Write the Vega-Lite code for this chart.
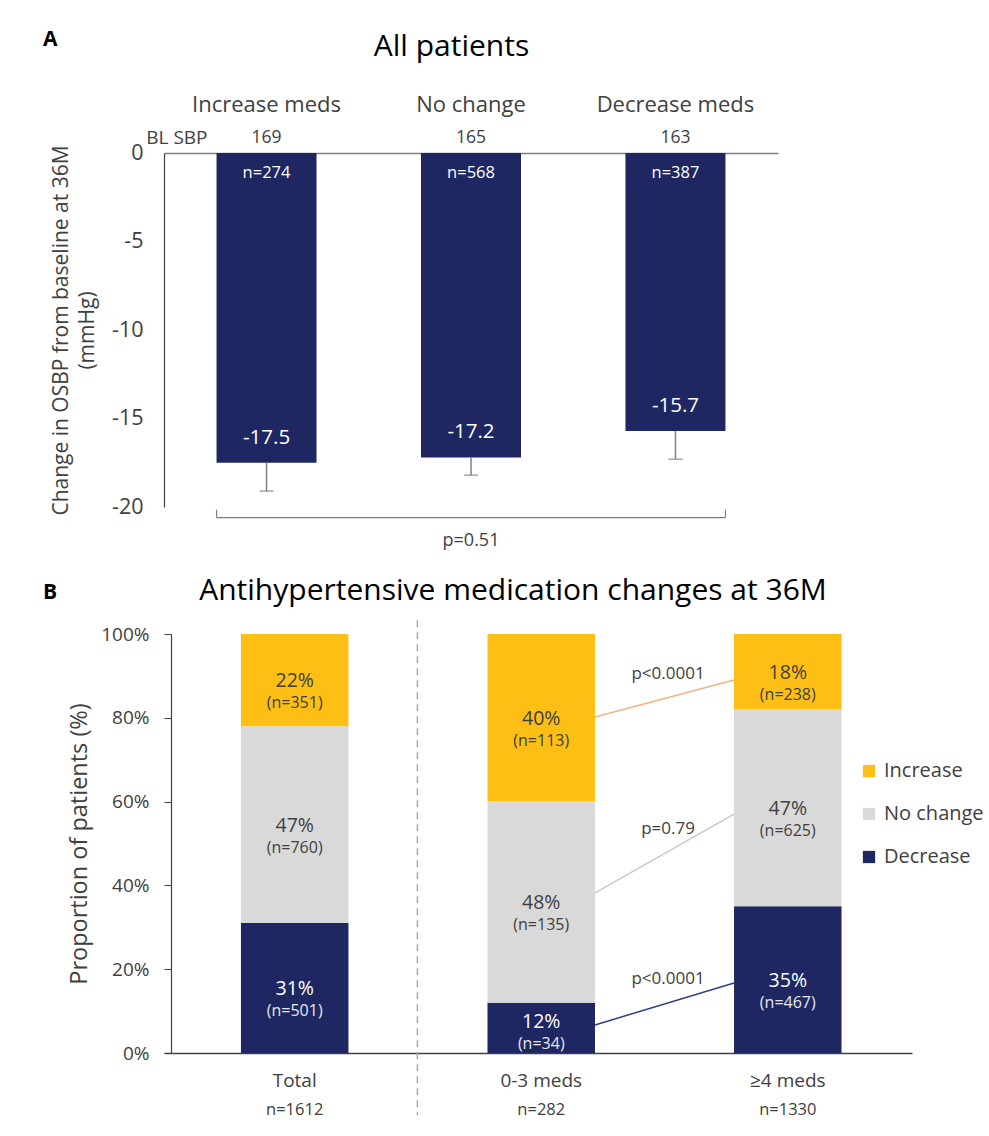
{
  "$schema": "https://vega.github.io/schema/vega-lite/v6.json",
  "background": "white",
  "padding": {"left": 42, "top": 29, "right": 5, "bottom": 5},
  "bounds": "flush",
  "spacing": 127,
  "config": {
    "font": "Open Sans",
    "view": {"stroke": null},
    "axis": {"grid": false, "labelFont": "Open Sans", "titleFont": "Open Sans", "labelColor": "#404040", "titleColor": "#404040", "titleFontWeight": "normal"},
    "title": {"font": "Open Sans"},
    "legend": {"labelFont": "Open Sans"},
    "text": {"font": "Open Sans"}
  },
  "vconcat": [
    {
      "width": 614,
      "height": 354,
      "title": {"text": "A", "anchor": "start", "frame": "group", "fontSize": 21, "fontWeight": "bold", "color": "#000000", "offset": -19, "dx": -121},
      "data": {"values": [
        {"group": "Increase meds", "change": -17.5, "lower": -19.1, "n": 274, "bl": 169},
        {"group": "No change", "change": -17.2, "lower": -18.2, "n": 568, "bl": 165},
        {"group": "Decrease meds", "change": -15.7, "lower": -17.3, "n": 387, "bl": 163}
      ]},
      "transform": [
        {"calculate": "'n=' + datum.n", "as": "nlabel"},
        {"calculate": "'' + datum.change", "as": "vlabel"}
      ],
      "layer": [
        {
          "mark": {"type": "bar", "color": "#1E2761"},
          "encoding": {
            "x": {"field": "group", "type": "nominal", "sort": null,
              "scale": {"domain": ["Increase meds", "No change", "Decrease meds"], "paddingInner": 0.511, "paddingOuter": 0.257},
              "axis": {"orient": "top", "title": "All patients", "titleFontSize": 30, "titleColor": "#000000", "titlePadding": 32, "titleX": 287,
                "labelFontSize": 22, "labelPadding": 37, "labelAngle": 0, "ticks": false, "domain": true, "domainColor": "#7F7F7F", "domainWidth": 1.5}},
            "y": {"field": "change", "type": "quantitative",
              "scale": {"domain": [-20, 0], "nice": false, "zero": false},
              "axis": {"values": [0, -5, -10, -15, -20], "labelExpr": "'' + datum.value", "ticks": false, "domainColor": "#404040", "domainWidth": 1.2,
                "labelFontSize": 21.5, "labelPadding": 21, "title": ["Change in OSBP from baseline at 36M", "(mmHg)"], "titleFontSize": 21, "titleLineHeight": 26, "titlePadding": 14}}
          }
        },
        {
          "mark": {"type": "rule", "color": "#7F7F7F", "strokeWidth": 1.5},
          "encoding": {
            "x": {"field": "group", "type": "nominal"},
            "y": {"field": "change", "type": "quantitative", "scale": {"domain": [-20, 0], "nice": false, "zero": false}},
            "y2": {"field": "lower"}
          }
        },
        {
          "mark": {"type": "tick", "color": "#7F7F7F", "thickness": 1.5, "size": 14, "orient": "horizontal"},
          "encoding": {
            "x": {"field": "group", "type": "nominal"},
            "y": {"field": "lower", "type": "quantitative", "scale": {"domain": [-20, 0], "nice": false, "zero": false}}
          }
        },
        {
          "mark": {"type": "text", "color": "white", "fontSize": 16.5, "dy": 20},
          "encoding": {
            "x": {"field": "group", "type": "nominal"},
            "y": {"datum": 0, "type": "quantitative", "scale": {"domain": [-20, 0], "nice": false, "zero": false}},
            "text": {"field": "nlabel"}
          }
        },
        {
          "mark": {"type": "text", "color": "white", "fontSize": 20.5, "dy": -25},
          "encoding": {
            "x": {"field": "group", "type": "nominal"},
            "y": {"field": "change", "type": "quantitative", "scale": {"domain": [-20, 0], "nice": false, "zero": false}},
            "text": {"field": "vlabel"}
          }
        },
        {
          "mark": {"type": "text", "color": "#404040", "fontSize": 17.5, "dy": -15},
          "encoding": {
            "x": {"field": "group", "type": "nominal"},
            "y": {"datum": 0, "type": "quantitative", "scale": {"domain": [-20, 0], "nice": false, "zero": false}},
            "text": {"field": "bl"}
          }
        },
        {
          "data": {"values": [{"label": "BL SBP"}]},
          "mark": {"type": "text", "color": "#404040", "fontSize": 19, "dy": -15, "align": "right", "dx": -9},
          "encoding": {
            "x": {"datum": "Increase meds", "type": "nominal", "bandPosition": 0},
            "y": {"datum": 0, "type": "quantitative", "scale": {"domain": [-20, 0], "nice": false, "zero": false}},
            "text": {"field": "label"}
          }
        },
        {
          "data": {"values": [{"label": "p=0.51"}]},
          "layer": [
            {
              "mark": {"type": "rule", "color": "#7F7F7F", "strokeWidth": 1.2},
              "encoding": {
                "x": {"datum": "Increase meds", "type": "nominal", "bandPosition": 0},
                "x2": {"datum": "Decrease meds", "bandPosition": 1},
                "y": {"datum": -20.6, "type": "quantitative", "scale": {"domain": [-20, 0], "nice": false, "zero": false}}
              }
            },
            {
              "mark": {"type": "rule", "color": "#7F7F7F", "strokeWidth": 1.2},
              "encoding": {
                "x": {"datum": "Increase meds", "type": "nominal", "bandPosition": 0},
                "y": {"datum": -20.15, "type": "quantitative", "scale": {"domain": [-20, 0], "nice": false, "zero": false}},
                "y2": {"datum": -20.6}
              }
            },
            {
              "mark": {"type": "rule", "color": "#7F7F7F", "strokeWidth": 1.2},
              "encoding": {
                "x": {"datum": "Decrease meds", "type": "nominal", "bandPosition": 1},
                "y": {"datum": -20.15, "type": "quantitative", "scale": {"domain": [-20, 0], "nice": false, "zero": false}},
                "y2": {"datum": -20.6}
              }
            },
            {
              "mark": {"type": "text", "color": "#404040", "fontSize": 18},
              "encoding": {
                "x": {"datum": "No change", "type": "nominal"},
                "y": {"datum": -21.9, "type": "quantitative", "scale": {"domain": [-20, 0], "nice": false, "zero": false}},
                "text": {"field": "label"}
              }
            }
          ]
        }
      ]
    },
    {
      "width": 748,
      "height": 419,
      "title": {"text": "Antihypertensive medication changes at 36M", "anchor": "middle", "frame": "group", "fontSize": 30, "fontWeight": "normal", "color": "#000000", "offset": -24, "dx": -25},
      "data": {"values": [
        {"group": "Total", "change": "Decrease", "pct": 31, "n": 501},
        {"group": "Total", "change": "No change", "pct": 47, "n": 760},
        {"group": "Total", "change": "Increase", "pct": 22, "n": 351},
        {"group": "0-3 meds", "change": "Decrease", "pct": 12, "n": 34},
        {"group": "0-3 meds", "change": "No change", "pct": 48, "n": 135},
        {"group": "0-3 meds", "change": "Increase", "pct": 40, "n": 113},
        {"group": "≥4 meds", "change": "Decrease", "pct": 35, "n": 467},
        {"group": "≥4 meds", "change": "No change", "pct": 47, "n": 625},
        {"group": "≥4 meds", "change": "Increase", "pct": 18, "n": 238}
      ]},
      "transform": [
        {"calculate": "indexof(['Decrease','No change','Increase'], datum.change)", "as": "ord"},
        {"stack": "pct", "groupby": ["group"], "sort": [{"field": "ord"}], "as": ["y0", "y1"]},
        {"calculate": "(datum.y0 + datum.y1) / 2 + (datum.pct < 15 ? 1.7 : 0)", "as": "ymid"},
        {"calculate": "datum.pct + '%'", "as": "pctlabel"},
        {"calculate": "'(n=' + datum.n + ')'", "as": "nlabel"}
      ],
      "layer": [
        {
          "mark": {"type": "bar"},
          "encoding": {
            "x": {"field": "group", "type": "nominal", "sort": null,
              "scale": {"domain": ["Total", "0-3 meds", "≥4 meds"], "paddingInner": 0.564, "paddingOuter": 0.299, "align": 0.522},
              "axis": {"orient": "bottom", "title": null, "labelAngle": 0, "labelFontSize": 19, "labelPadding": 18, "ticks": false, "domainColor": "#404040", "domainWidth": 1.5}},
            "y": {"field": "y1", "type": "quantitative",
              "scale": {"domain": [0, 100], "nice": false},
              "axis": {"orient": "left", "values": [0, 20, 40, 60, 80, 100], "labelExpr": "datum.value + '%'", "tickSize": 7, "tickColor": "#404040", "domainColor": "#404040", "domainWidth": 1.2,
                "offset": -7, "labelFontSize": 19, "labelPadding": 15, "title": "Proportion of patients (%)", "titleFontSize": 23.5, "titlePadding": 9}},
            "y2": {"field": "y0"},
            "color": {"field": "change", "type": "nominal",
              "scale": {"domain": ["Increase", "No change", "Decrease"], "range": ["#FDBF14", "#D9D9D9", "#1E2761"]},
              "legend": {"title": null, "orient": "none", "legendX": 695, "legendY": 608, "symbolType": "square", "symbolSize": 150, "symbolStrokeWidth": 0,
                "labelFontSize": 20, "labelColor": "#404040", "rowPadding": 23, "labelOffset": 5}}
          }
        },
        {
          "mark": {"type": "text", "fontSize": 19.5, "dy": 1},
          "encoding": {
            "x": {"field": "group", "type": "nominal"},
            "y": {"field": "ymid", "type": "quantitative", "scale": {"domain": [0, 100], "nice": false}},
            "text": {"field": "pctlabel"},
            "color": {"condition": {"test": "datum.change == 'Decrease'", "value": "#FFFFFF"}, "value": "#404040"}
          }
        },
        {
          "mark": {"type": "text", "fontSize": 16, "dy": 23},
          "encoding": {
            "x": {"field": "group", "type": "nominal"},
            "y": {"field": "ymid", "type": "quantitative", "scale": {"domain": [0, 100], "nice": false}},
            "text": {"field": "nlabel"},
            "color": {"condition": {"test": "datum.change == 'Decrease'", "value": "#E6E8F0"}, "value": "#404040"}
          }
        },
        {
          "data": {"values": [
            {"change": "Increase", "y_from": 80.2, "y_to": 89, "p": "p<0.0001"},
            {"change": "No change", "y_from": 38.2, "y_to": 57, "p": "p=0.79"},
            {"change": "Decrease", "y_from": 6.7, "y_to": 16.7, "p": "p<0.0001"}
          ]},
          "transform": [{"calculate": "(datum.y_from + datum.y_to) / 2", "as": "y_mid"}],
          "layer": [
            {
              "mark": {"type": "rule", "strokeWidth": 1.5},
              "encoding": {
                "x": {"datum": "0-3 meds", "type": "nominal", "bandPosition": 1},
                "x2": {"datum": "≥4 meds", "bandPosition": 0},
                "y": {"field": "y_from", "type": "quantitative", "scale": {"domain": [0, 100], "nice": false}},
                "y2": {"field": "y_to"},
                "stroke": {"field": "change", "type": "nominal", "scale": {"domain": ["Increase", "No change", "Decrease"], "range": ["#F4B183", "#C9C9C9", "#2F3F85"]}, "legend": null}
              }
            },
            {
              "mark": {"type": "text", "fontSize": 17, "color": "#404040", "dy": -25},
              "encoding": {
                "x": {"datum": "≥4 meds", "type": "nominal", "bandPosition": -0.614},
                "y": {"field": "y_mid", "type": "quantitative", "scale": {"domain": [0, 100], "nice": false}},
                "text": {"field": "p"}
              }
            }
          ]
        },
        {
          "data": {"values": [{"label": "B"}]},
          "layer": [
            {
              "mark": {"type": "rule", "color": "#A6A6A6", "strokeWidth": 1.5, "strokeDash": [7, 5]},
              "encoding": {
                "x": {"datum": "0-3 meds", "type": "nominal", "bandPosition": -0.652},
                "y": {"datum": 103.3, "type": "quantitative", "scale": {"domain": [0, 100], "nice": false}},
                "y2": {"datum": -14.8}
              }
            },
            {
              "mark": {"type": "text", "fontSize": 21, "fontWeight": "bold", "color": "#000000", "align": "left"},
              "encoding": {
                "x": {"datum": "Total", "type": "nominal", "bandPosition": -1.842},
                "y": {"datum": 109.7, "type": "quantitative", "scale": {"domain": [0, 100], "nice": false}},
                "text": {"field": "label"}
              }
            }
          ]
        },
        {
          "transform": [
            {"aggregate": [{"op": "sum", "field": "n", "as": "total"}], "groupby": ["group"]},
            {"calculate": "'n=' + datum.total", "as": "tlabel"}
          ],
          "mark": {"type": "text", "fontSize": 16.5, "color": "#404040"},
          "encoding": {
            "x": {"field": "group", "type": "nominal"},
            "y": {"datum": -13.5, "type": "quantitative", "scale": {"domain": [0, 100], "nice": false}},
            "text": {"field": "tlabel"}
          }
        }
      ]
    }
  ]
}
